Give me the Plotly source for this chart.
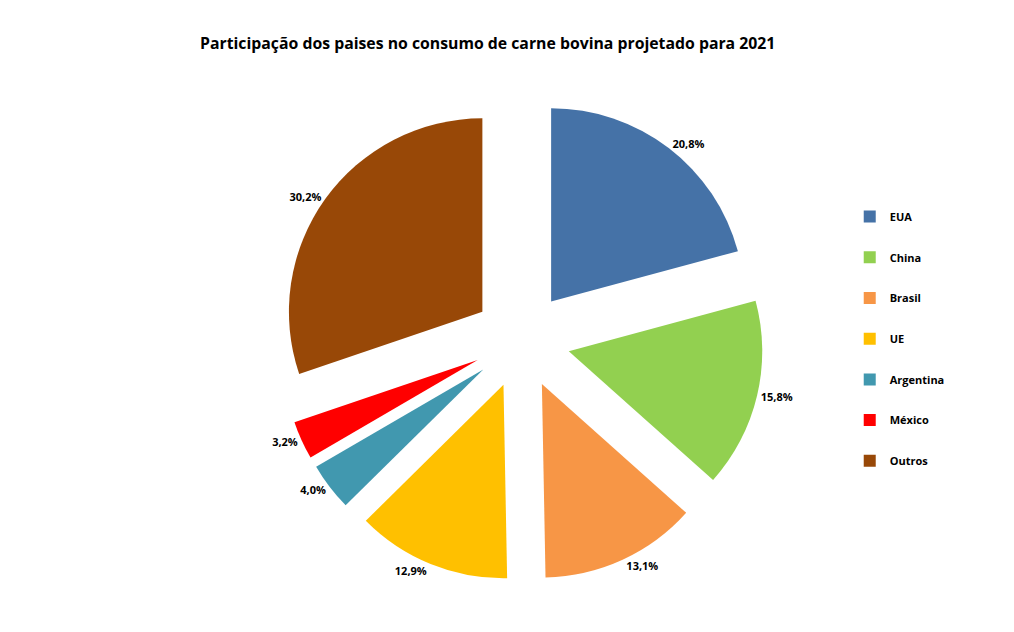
import plotly.graph_objects as go

categories = ["EUA", "China", "Brasil", "UE", "Argentina", "México", "Outros"]
values = [20.8, 15.8, 13.1, 12.9, 4.0, 3.2, 30.2]
colors = ["#4572A7", "#92D050", "#F79646", "#FFC000", "#4198AF", "#FF0000", "#984807"]

legend_labels = [
    f"<span style='font-size:11px;baseline-shift:7px'>{c}</span>" for c in categories
]

fig = go.Figure(
    go.Pie(
        labels=legend_labels,
        values=values,
        sort=False,
        direction="clockwise",
        rotation=0,
        pull=[0.25] * len(values),
        marker=dict(colors=colors, line=dict(width=0)),
        textinfo="percent",
        texttemplate="%{percent:.1%}",
        textposition="outside",
        outsidetextfont=dict(family="Open Sans", size=11, color="black", weight="bold"),
        hoverinfo="skip",
        domain=dict(x=[0.276, 0.753], y=[0.079, 0.845]),
    )
)

fig.update_layout(
    width=1014,
    height=632,
    margin=dict(l=0, r=0, t=0, b=0, autoexpand=False),
    paper_bgcolor="white",
    separators=",.",
    title=dict(
        text="<b>Participação dos paises no consumo de carne bovina projetado para 2021</b>",
        x=0.481,
        xanchor="center",
        y=0.932,
        yanchor="middle",
        font=dict(family="Open Sans", size=15.8, color="black"),
    ),
    legend=dict(
        x=0.838,
        y=0.464,
        xanchor="left",
        yanchor="middle",
        font=dict(family="Open Sans", size=29, color="black", weight="bold"),
        itemclick=False,
    ),
    showlegend=True,
)

fig.write_html("out.html")
